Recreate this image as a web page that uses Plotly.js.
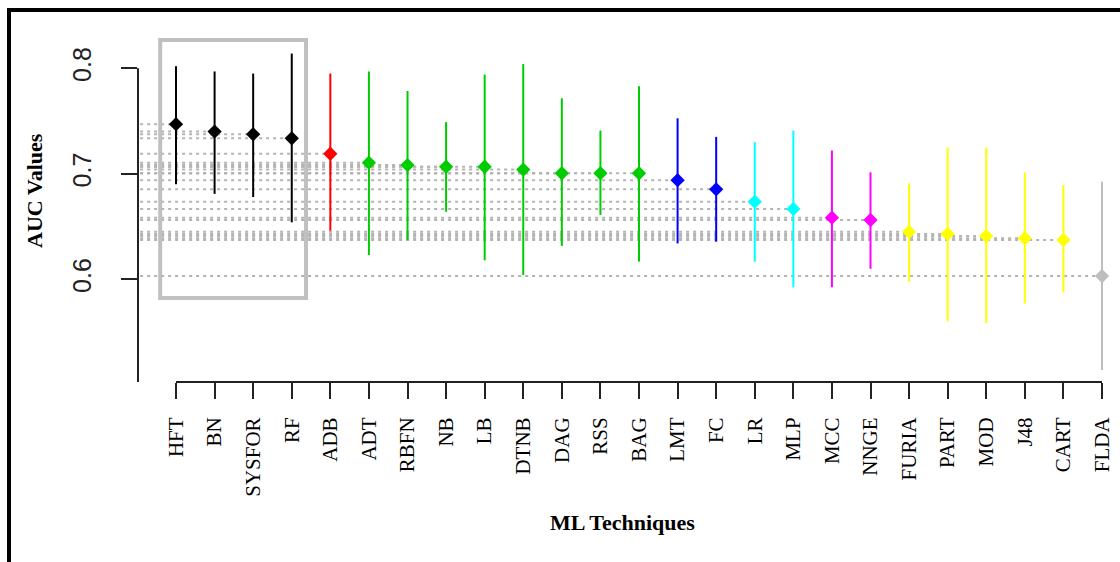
<!DOCTYPE html>
<html>
<head>
<meta charset="utf-8">
<script src="https://cdn.plot.ly/plotly-3.0.1.min.js"></script>
<style>
  html, body { margin: 0; padding: 0; background: #fff; overflow: hidden; }
  #wrap { position: relative; width: 1120px; height: 562px; overflow: hidden; }
  #chart { width: 1120px; height: 562px; }
  #frame { position: absolute; left: 7px; top: 8px; width: 1300px; height: 1000px;
           border-left: 4px solid #000; border-top: 4px solid #000; pointer-events: none; }
</style>
</head>
<body>
<div id="wrap">
  <div id="chart"></div>
  <div id="frame"></div>
</div>
<script>
// ---- data ----
const methods = ["HFT","BN","SYSFOR","RF","ADB","ADT","RBFN","NB","LB","DTNB","DAG","RSS","BAG",
                 "LMT","FC","LR","MLP","MCC","NNGE","FURIA","PART","MOD","J48","CART","FLDA"];
const aucMean = [0.747,0.740,0.7375,0.7336,0.719,0.7105,0.7083,0.7067,0.7067,0.704,0.7005,0.7005,0.7005,
                 0.694,0.6853,0.6736,0.6667,0.6584,0.6562,0.645,0.643,0.641,0.639,0.6373,0.6031];
const aucUpper = [0.802,0.797,0.795,0.814,0.795,0.797,0.7785,0.749,0.794,0.804,0.7716,0.741,0.783,
                  0.7526,0.735,0.730,0.741,0.722,0.7014,0.691,0.725,0.725,0.7014,0.6894,0.6925];
const aucLower = [0.690,0.681,0.678,0.654,0.646,0.623,0.637,0.664,0.618,0.604,0.6316,0.661,0.6167,
                  0.634,0.6356,0.6167,0.5924,0.5924,0.610,0.5977,0.560,0.5583,0.577,0.5877,0.514];
const rankGroup = [1,1,1,1,2,3,3,3,3,3,3,3,3,4,4,5,5,6,6,7,7,7,7,7,8];
const yTicks = [0.6, 0.7, 0.8];

// ---- styles ----
const groupColor = {1:"#000000",2:"#ff0000",3:"#00cd00",4:"#0000ff",5:"#00ffff",6:"#ff00ff",7:"#ffff00",8:"#bebebe"};

// pixel layout helpers
const W = 1120, H = 562;
const mL = 138, mR = 10, mT = 20, mB = 180;
const yRange = [0.50265, 0.84578];
const xRange = [-0.985, 24.207];

const idx = methods.map((_, i) => i);
const traces = [];

// dotted reference lines from the axis to each point
const lx = [], ly = [];
idx.forEach(i => { lx.push(-0.93, i, null); ly.push(aucMean[i], aucMean[i], null); });
traces.push({
  x: lx, y: ly, mode: "lines", hoverinfo: "skip", showlegend: false,
  line: { color: "#b4b4b4", width: 2, dash: "3px,4px" }
});

// one trace per colour group
const groups = [...new Set(rankGroup)];
groups.forEach(g => {
  const ii = idx.filter(i => rankGroup[i] === g);
  traces.push({
    x: ii, y: ii.map(i => aucMean[i]), mode: "markers", type: "scatter", showlegend: false,
    text: ii.map(i => methods[i]),
    marker: { color: groupColor[g], size: 11, symbol: "diamond" },
    error_y: {
      type: "data", symmetric: false,
      array: ii.map(i => aucUpper[i] - aucMean[i]),
      arrayminus: ii.map(i => aucMean[i] - aucLower[i]),
      color: groupColor[g], thickness: 2, width: 0
    }
  });
});

const layout = {
  width: W, height: H,
  margin: { l: mL, r: mR, t: mT, b: mB, pad: 0 },
  paper_bgcolor: "#fff", plot_bgcolor: "#fff",
  showlegend: false,
  xaxis: {
    range: xRange, showgrid: false, zeroline: false, showline: false,
    tickmode: "array", tickvals: idx, ticktext: methods,
    ticks: "outside", ticklen: 16, tickwidth: 2, tickcolor: "#222",
    tickangle: -90, ticklabelstandoff: 10,
    tickfont: { family: "Liberation Serif, Times New Roman, serif", size: 21, color: "#000" }
  },
  yaxis: {
    range: yRange, showgrid: false, zeroline: false, showline: false,
    tickmode: "array", tickvals: yTicks, ticktext: yTicks.map(v => v.toFixed(1)),
    ticks: "outside", ticklen: 16, tickwidth: 2, tickcolor: "#222",
    tickangle: -90, ticklabelstandoff: 20,
    tickfont: { family: "Liberation Sans, Arial, sans-serif", size: 25, color: "#222" }
  },
  shapes: [
    // R-style axis lines spanning tick range
    { type: "line", xref: "paper", yref: "y", x0: 0, x1: 0, y0: yRange[0], y1: 0.8,
      line: { color: "#222", width: 2 } },
    { type: "line", xref: "x", yref: "paper", x0: 0, x1: 24, y0: 0, y1: 0,
      line: { color: "#222", width: 2 } },
    // highlight box around top-ranked techniques
    { type: "rect", xref: "x", yref: "y", x0: -0.41, x1: 3.37, y0: 0.5823, y1: 0.8268,
      line: { color: "#c0c0c0", width: 4 }, layer: "above" }
  ],
  annotations: [
    { text: "<b>AUC Values</b>", textangle: -90, xref: "paper", yref: "paper",
      x: (35 - mL) / (W - mL - mR), y: (H - mB - 191) / (H - mT - mB),
      xanchor: "center", yanchor: "middle", showarrow: false,
      font: { family: "Liberation Serif, Times New Roman, serif", size: 22, color: "#000" } },
    { text: "<b>ML Techniques</b>", xref: "paper", yref: "paper",
      x: (622 - mL) / (W - mL - mR), y: (H - mB - 522) / (H - mT - mB),
      xanchor: "center", yanchor: "middle", showarrow: false,
      font: { family: "Liberation Serif, Times New Roman, serif", size: 22, color: "#000" } }
  ]
};

Plotly.newPlot("chart", traces, layout, { displayModeBar: false, staticPlot: true });
</script>
</body>
</html>
